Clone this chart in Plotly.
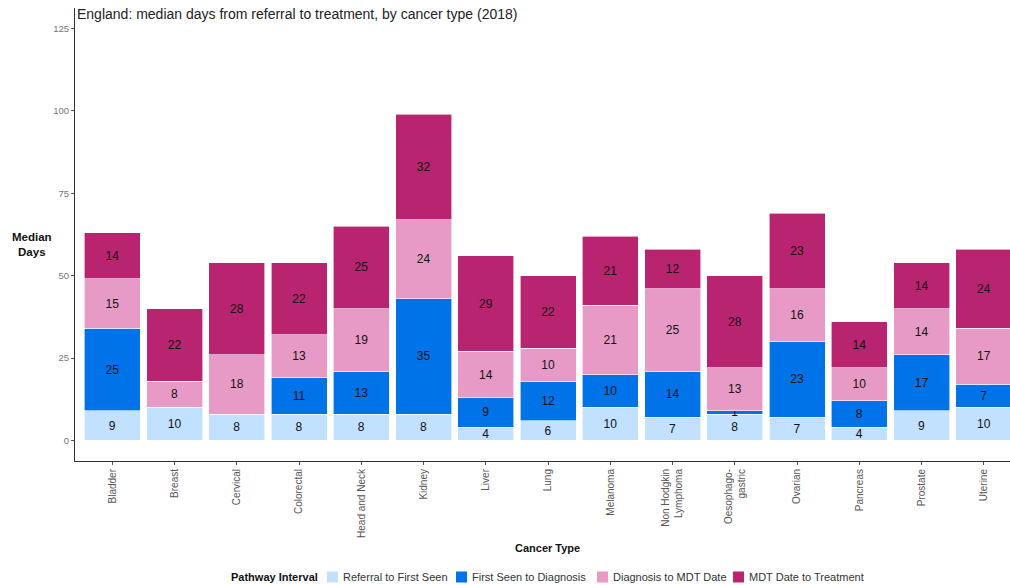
import plotly.graph_objects as go

cancer_types = ["Bladder", "Breast", "Cervical", "Colorectal", "Head and Neck", "Kidney",
                "Liver", "Lung", "Melanoma", "Non Hodgkin<br>Lymphoma", "Oesophago-<br>gastric",
                "Ovarian", "Pancreas", "Prostate", "Uterine"]

referral_to_first_seen = [9, 10, 8, 8, 8, 8, 4, 6, 10, 7, 8, 7, 4, 9, 10]
first_seen_to_diagnosis = [25, 0, 0, 11, 13, 35, 9, 12, 10, 14, 1, 23, 8, 17, 7]
diagnosis_to_mdt = [15, 8, 18, 13, 19, 24, 14, 10, 21, 25, 13, 16, 10, 14, 17]
mdt_to_treatment = [14, 22, 28, 22, 25, 32, 29, 22, 21, 12, 28, 23, 14, 14, 24]

series_names = ["Referral to First Seen", "First Seen to Diagnosis",
                "Diagnosis to MDT Date", "MDT Date to Treatment"]
series_values = [referral_to_first_seen, first_seen_to_diagnosis, diagnosis_to_mdt, mdt_to_treatment]
colors = ["#C2E0FF", "#0073E8", "#E89AC6", "#B8246F"]

y_ticks = [0, 25, 50, 75, 100, 125]

FONT = "Liberation Sans, Arial, sans-serif"
W, H = 1010, 585
left, right, top, bottom = 75, 0, 8, 124
pw = W - left - right
ph = H - top - bottom


def px_x(p):
    return (p - left) / pw


def px_y(p):
    return (H - bottom - p) / ph


fig = go.Figure()
x_idx = list(range(len(cancer_types)))
for name, vals, col in zip(series_names, series_values, colors):
    fig.add_trace(go.Bar(
        x=x_idx, y=vals, name=name,
        marker=dict(color=col, line=dict(color="white", width=0.6)),
        text=[str(v) if v > 0 else "" for v in vals],
        textposition="inside", insidetextanchor="middle", textangle=0,
        textfont=dict(color="#111111", size=12, family=FONT),
        showlegend=False,
    ))

fig.update_layout(
    barmode="stack", bargap=0.1,
    width=W, height=H,
    margin=dict(l=left, r=right, t=top, b=bottom, autoexpand=False),
    plot_bgcolor="white", paper_bgcolor="white",
    font=dict(family=FONT, color="#333333"),
    uniformtext=dict(minsize=12, mode="show"),
    title=dict(text="England: median days from referral to treatment, by cancer type (2018)",
               x=px_x(77), xref="paper", xanchor="left",
               y=1 - 14 / H, yref="container", yanchor="middle",
               font=dict(size=14, color="#222222", family=FONT)),
    xaxis=dict(
        tickmode="array", tickvals=x_idx, ticktext=cancer_types,
        tickangle=-90, range=[-0.6, 14.42], automargin=False,
        showline=True, linecolor="#333333", linewidth=1,
        ticks="outside", ticklen=3, tickcolor="#555555",
        tickfont=dict(size=10, color="#555555"),
        showgrid=False, zeroline=False,
    ),
    yaxis=dict(
        tickmode="array", tickvals=y_ticks, ticktext=[str(t) for t in y_ticks],
        range=[-6.25, 131.25], automargin=False,
        showline=True, linecolor="#333333", linewidth=1,
        ticks="outside", ticklen=3, tickcolor="#555555",
        tickfont=dict(size=9.5, color="#777777"),
        showgrid=False, zeroline=False,
    ),
    showlegend=False,
)

# axis titles
fig.add_annotation(text="<b>Median<br>Days</b>", xref="paper", yref="paper",
                   x=px_x(31.5), y=px_y(244),
                   xanchor="center", yanchor="middle", showarrow=False,
                   font=dict(size=11.5, color="#111111", family=FONT))
fig.add_annotation(text="<b>Cancer Type</b>", xref="paper", yref="paper",
                   x=px_x(547.5), y=px_y(548),
                   xanchor="center", yanchor="middle", showarrow=False,
                   font=dict(size=11, color="#111111", family=FONT))

# legend (drawn manually to match the reference's compact layout)
legend_y = 577
fig.add_annotation(text="<b>Pathway Interval</b>", xref="paper", yref="paper",
                   x=px_x(229), y=px_y(legend_y), xanchor="left", yanchor="middle",
                   showarrow=False, font=dict(size=11, color="#111111", family=FONT))
swatch_lefts = [327, 456, 597, 733]
for name, col, sx in zip(series_names, colors, swatch_lefts):
    fig.add_shape(type="rect", xref="paper", yref="paper",
                  x0=px_x(sx), x1=px_x(sx + 11),
                  y0=px_y(legend_y + 5.5), y1=px_y(legend_y - 5.5),
                  fillcolor=col, line=dict(width=0))
    fig.add_annotation(text=name, xref="paper", yref="paper",
                       x=px_x(sx + 14), y=px_y(legend_y), xanchor="left", yanchor="middle",
                       showarrow=False, font=dict(size=11, color="#333333", family=FONT))

fig.write_html("out.html", config={"displayModeBar": False},
               post_script="document.body.style.margin='0';")
